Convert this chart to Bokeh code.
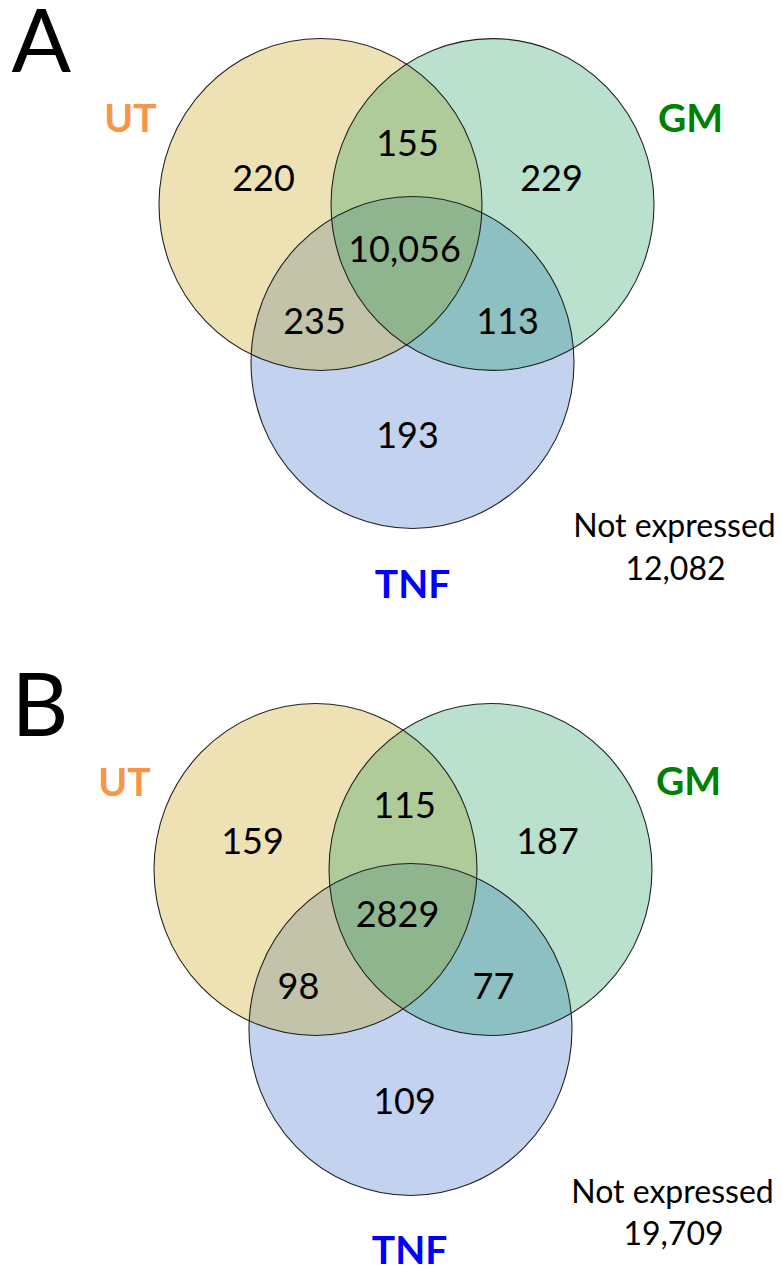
import numpy as np
from bokeh.plotting import figure
from bokeh.models import Range1d
from bokeh.embed import file_html
from bokeh.resources import INLINE
from bokeh.core.properties import value

# ---------------- data ----------------
panel_letters = ["A", "B"]
set_names = ["UT", "GM", "TNF"]
set_label_colors = ["#F79646", "#008000", "#0000FF"]
region_keys = ["UT", "GM", "TNF", "UT&GM", "UT&TNF", "GM&TNF", "ALL"]
counts_A = [220, 229, 193, 155, 235, 113, 10056]
counts_B = [159, 187, 109, 115, 98, 77, 2829]
not_expressed_label = "Not expressed"
not_expressed_A = 12082
not_expressed_B = 19709

# region fill colours
region_colors = {
    "UT": "#EEE2B4", "GM": "#B9E1CE", "TNF": "#C3D2EF",
    "UT&GM": "#AFCB99", "UT&TNF": "#C3C3A9", "GM&TNF": "#8CC0C3",
    "ALL": "#8FB58F",
}

# ---------------- layout (screen pixels, text y = visual baseline) ----------------
RX, RY = 161.5, 166.0
centers = {
    "A": [(320, 204), (492, 204), (412, 362)],
    "B": [(315, 869), (490, 869), (410, 1029)],
}
count_pos = {
    "A": [(263, 192), (551, 192), (407, 449), (407, 157), (314, 335), (507, 335), (404, 263)],
    "B": [(252, 855), (547, 855), (404, 1115), (404, 819), (298, 1000), (493, 1000), (397, 928)],
}
set_label_pos = {
    "A": [(130, 132), (690, 132), (412, 598)],
    "B": [(124, 796), (688, 795), (409, 1264)],
}
ne_pos = {"A": [(674, 537), (675, 580)], "B": [(672, 1203), (673, 1245)]}
letter_pos = {"A": (11, 73), "B": (11, 737)}

FS_NUM, FS_SET, FS_NE, FS_LET = 36, 39, 32, 88
BASE_K = 0.40  # measured baseline offset of the renderer, in em

W, H = 782, 1267
p = figure(width=W, height=H, output_backend="svg", toolbar_location=None,
           x_range=Range1d(0, W), y_range=Range1d(H, 0),
           min_border=0, outline_line_color=None, background_fill_color="white")
p.axis.visible = False
p.grid.visible = False

def fmt(v):
    return f"{v:,}" if v >= 10000 else str(v)

def by(y, fs):
    return y - BASE_K * fs

t = np.linspace(0, 2 * np.pi, 1440, endpoint=False)

def ell_pts(c):
    return np.column_stack([c[0] + RX * np.cos(t), c[1] + RY * np.sin(t)])

def inside(pts, c):
    return ((pts[:, 0] - c[0]) / RX) ** 2 + ((pts[:, 1] - c[1]) / RY) ** 2 <= 1.0

def intersection(cs):
    pts = []
    for i, c in enumerate(cs):
        e = ell_pts(c)
        m = np.ones(len(e), bool)
        for j, d in enumerate(cs):
            if j != i:
                m &= inside(e, d)
        pts.append(e[m])
    pts = np.vstack(pts)
    cen = pts.mean(axis=0)
    ang = np.arctan2(pts[:, 1] - cen[1], pts[:, 0] - cen[0])
    pts = pts[np.argsort(ang)]
    return list(pts[:, 0]), list(pts[:, 1])

font = value("Lato")
for panel, counts, ne in [("A", counts_A, not_expressed_A), ("B", counts_B, not_expressed_B)]:
    cs = centers[panel]
    for k, c in enumerate(cs):
        p.ellipse(x=c[0], y=c[1], width=2 * RX, height=2 * RY,
                  fill_color=region_colors[set_names[k]], line_color=None)
    for key, (i, j) in [("UT&GM", (0, 1)), ("UT&TNF", (0, 2)), ("GM&TNF", (1, 2))]:
        xs, ys = intersection([cs[i], cs[j]])
        p.patch(xs, ys, fill_color=region_colors[key], line_color=None)
    xs, ys = intersection(cs)
    p.patch(xs, ys, fill_color=region_colors["ALL"], line_color=None)
    for c in cs:
        p.ellipse(x=c[0], y=c[1], width=2 * RX, height=2 * RY,
                  fill_color=None, line_color="#222222", line_width=1.1)
    p.text(x=[q[0] for q in count_pos[panel]], y=[by(q[1], FS_NUM) for q in count_pos[panel]],
           text=[fmt(v) for v in counts], text_font=font, text_font_size=f"{FS_NUM}px",
           text_align="center", text_baseline="alphabetic", text_color="black")
    for k, name in enumerate(set_names):
        q = set_label_pos[panel][k]
        p.text(x=[q[0]], y=[by(q[1], FS_SET)], text=[name], text_font=font,
               text_font_size=f"{FS_SET}px", text_font_style="bold", text_align="center",
               text_baseline="alphabetic", text_color=set_label_colors[k])
    q1, q2 = ne_pos[panel]
    p.text(x=[q1[0], q2[0]], y=[by(q1[1], FS_NE), by(q2[1], FS_NE)],
           text=[not_expressed_label, fmt(ne)], text_font=font, text_font_size=f"{FS_NE}px",
           text_align="center", text_baseline="alphabetic", text_color="black")
    lq = letter_pos[panel]
    p.text(x=[lq[0]], y=[by(lq[1], FS_LET)], text=[panel], text_font=font,
           text_font_size=f"{FS_LET}px", text_align="left", text_baseline="alphabetic",
           text_color="black")

open("out.html", "w").write(file_html(p, INLINE))
